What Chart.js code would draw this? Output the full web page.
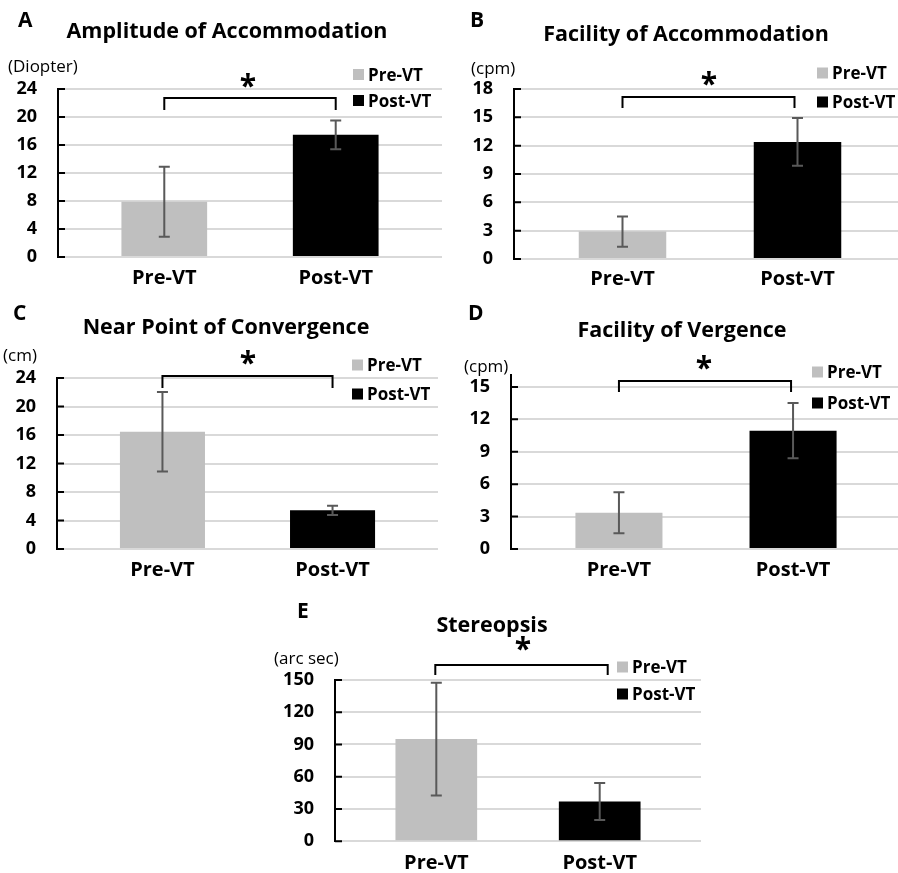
<!DOCTYPE html>
<html>
<head>
<meta charset="utf-8">
<script src="https://cdn.jsdelivr.net/npm/chart.js@4.4.1/dist/chart.umd.min.js"></script>
<style>
  html, body { margin: 0; padding: 0; background: #fff; }
  body { width: 898px; height: 873px; position: relative; overflow: hidden; }
  canvas { position: absolute; }
</style>
</head>
<body>
<canvas id="chart-a"></canvas>
<canvas id="chart-b"></canvas>
<canvas id="chart-c"></canvas>
<canvas id="chart-d"></canvas>
<canvas id="chart-e"></canvas>
<script>
'use strict';

/*===== Data =====*/
const categories = ['Pre-VT', 'Post-VT'];
const seriesNames = ['Pre-VT', 'Post-VT'];

const amplitudeMean = [7.9, 17.45];
const amplitudeSd = [5.0, 2.05];
const amplitudeTicks = [0, 4, 8, 12, 16, 20, 24];

const facilityAccMean = [2.9, 12.4];
const facilityAccSd = [1.6, 2.53];
const facilityAccTicks = [0, 3, 6, 9, 12, 15, 18];

const convergenceMean = [16.45, 5.43];
const convergenceSd = [5.58, 0.65];
const convergenceTicks = [0, 4, 8, 12, 16, 20, 24];

const vergenceMean = [3.35, 10.95];
const vergenceSd = [1.9, 2.55];
const vergenceTicks = [0, 3, 6, 9, 12, 15];

const stereoMean = [95, 37];
const stereoSd = [52.4, 17.2];
const stereoTicks = [0, 30, 60, 90, 120, 150];

/*===== Styles =====*/
const FONT = "'Open Sans', 'Noto Sans', sans-serif";
const barColors = ['#bfbfbf', '#000000'];
Chart.defaults.font.family = FONT;
Chart.defaults.color = '#000';

/*===== Panels (layout in page pixels) =====*/
const panels = [
  { id: 'chart-a', letter: 'A', title: 'Amplitude of Accommodation', unit: '(Diopter)',
    mean: amplitudeMean, sd: amplitudeSd, ticks: amplitudeTicks, yMax: 24,
    box: {x: 0, y: 0, w: 449, h: 295}, area: {left: 58, right: 442, top: 89, bottom: 257},
    letterPos: [18, 27], titlePos: [227, 38], unitPos: [8, 72],
    legend: {x: 353, rows: [74.5, 100.5]}, bracket: {y: 98, drop: 12, shift: [0, 0]},
    star: [248, 80], labelPad: 1.5 },
  { id: 'chart-b', letter: 'B', title: 'Facility of Accommodation', unit: '(cpm)',
    mean: facilityAccMean, sd: facilityAccSd, ticks: facilityAccTicks, yMax: 18,
    box: {x: 449, y: 0, w: 460, h: 295}, area: {left: 514, right: 906, top: 89, bottom: 259},
    letterPos: [470, 27], titlePos: [686, 41], unitPos: [471, 74],
    legend: {x: 817, rows: [73, 102]}, bracket: {y: 97, drop: 11, shift: [0, -3]},
    star: [709, 78], labelPad: 0 },
  { id: 'chart-c', letter: 'C', title: 'Near Point of Convergence', unit: '(cm)',
    mean: convergenceMean, sd: convergenceSd, ticks: convergenceTicks, yMax: 24,
    box: {x: 0, y: 295, w: 449, h: 295}, area: {left: 57, right: 438, top: 378, bottom: 549},
    letterPos: [13, 320], titlePos: [226, 334], unitPos: [3, 361],
    legend: {x: 352, rows: [365, 394]}, bracket: {y: 376, drop: 12, shift: [0, 0]},
    star: [248, 357], labelPad: 1 },
  { id: 'chart-d', letter: 'D', title: 'Facility of Vergence', unit: '(cpm)',
    mean: vergenceMean, sd: vergenceSd, ticks: vergenceTicks, yMax: 16.1,
    box: {x: 449, y: 295, w: 460, h: 295}, area: {left: 511, right: 901, top: 375, bottom: 549},
    letterPos: [468, 320], titlePos: [682, 337], unitPos: [464, 372],
    legend: {x: 812, rows: [372, 403]}, bracket: {y: 381, drop: 11, shift: [0, -2]},
    star: [704, 362], labelPad: 1 },
  { id: 'chart-e', letter: 'E', title: 'Stereopsis', unit: '(arc sec)',
    mean: stereoMean, sd: stereoSd, ticks: stereoTicks, yMax: 150,
    box: {x: 250, y: 590, w: 470, h: 283}, area: {left: 335, right: 701, top: 680, bottom: 843},
    letterPos: [297, 618], titlePos: [492, 632], unitPos: [274, 664],
    legend: {x: 617, rows: [667, 694]}, bracket: {y: 665, drop: 10, shift: [-1, 8]},
    star: [523, 643], labelPad: 2 }
];

/*===== Plugin: error bars, inner ticks, titles, legend, bracket =====*/
function makeDecor(p) {
  const ox = p.box.x, oy = p.box.y;
  return {
    id: 'decor',
    afterDatasetsDraw(chart) {
      const ctx = chart.ctx;
      const yScale = chart.scales.y;
      const area = chart.chartArea;

      // petits traits vers l'intérieur
      ctx.save();
      ctx.strokeStyle = '#000';
      ctx.lineWidth = 2;
      ctx.beginPath();
      p.ticks.forEach(v => {
        const y = yScale.getPixelForValue(v);
        ctx.moveTo(area.left, y);
        ctx.lineTo(area.left + 7, y);
      });
      ctx.stroke();

      // barres d'erreur
      ctx.strokeStyle = '#595959';
      ctx.lineWidth = 2;
      const meta = chart.getDatasetMeta(0);
      meta.data.forEach((bar, i) => {
        const top = yScale.getPixelForValue(p.mean[i] + p.sd[i]);
        const bot = yScale.getPixelForValue(p.mean[i] - p.sd[i]);
        ctx.beginPath();
        ctx.moveTo(bar.x, top); ctx.lineTo(bar.x, bot);
        ctx.moveTo(bar.x - 5.5, top); ctx.lineTo(bar.x + 5.5, top);
        ctx.moveTo(bar.x - 5.5, bot); ctx.lineTo(bar.x + 5.5, bot);
        ctx.stroke();
      });
      ctx.restore();
    },
    afterDraw(chart) {
      const ctx = chart.ctx;
      const xScale = chart.scales.x;
      ctx.save();
      ctx.fillStyle = '#000';
      ctx.textBaseline = 'alphabetic';

      ctx.textAlign = 'left';
      ctx.font = 'bold 21px ' + FONT;
      ctx.fillText(p.letter, p.letterPos[0] - ox, p.letterPos[1] - oy);

      ctx.textAlign = 'center';
      ctx.font = 'bold 21.5px ' + FONT;
      ctx.fillText(p.title, p.titlePos[0] - ox, p.titlePos[1] - oy);

      ctx.textAlign = 'left';
      ctx.font = '17px ' + FONT;
      ctx.fillText(p.unit, p.unitPos[0] - ox, p.unitPos[1] - oy);

      // légende
      ctx.font = 'bold 17px ' + FONT;
      p.legend.rows.forEach((cy, i) => {
        ctx.fillStyle = barColors[i];
        ctx.fillRect(p.legend.x - ox, cy - 5.5 - oy, 11, 11);
        ctx.fillStyle = '#000';
        ctx.fillText(seriesNames[i], p.legend.x + 15 - ox, cy + 6 - oy);
      });

      // crochet de significativité
      const x1 = xScale.getPixelForValue(1) + p.bracket.shift[0];
      const x2 = xScale.getPixelForValue(2) + p.bracket.shift[1];
      const by = p.bracket.y - oy;
      ctx.strokeStyle = '#000';
      ctx.lineWidth = 2;
      ctx.beginPath();
      ctx.moveTo(x1, by + p.bracket.drop);
      ctx.lineTo(x1, by);
      ctx.lineTo(x2, by);
      ctx.lineTo(x2, by + p.bracket.drop);
      ctx.stroke();

      ctx.textAlign = 'center';
      ctx.font = 'bold 30px ' + FONT;
      ctx.fillText('*', p.star[0] - ox, p.star[1] + 16 - oy);
      ctx.restore();
    }
  };
}

/*===== Draw each panel =====*/
function drawPanel(p) {
  const canvas = document.getElementById(p.id);
  canvas.width = p.box.w;
  canvas.height = p.box.h;
  canvas.style.left = p.box.x + 'px';
  canvas.style.top = p.box.y + 'px';

  new Chart(canvas.getContext('2d'), {
    type: 'bar',
    data: {
      datasets: [{
        data: p.mean.map((m, i) => ({x: i + 1, y: m})),
        backgroundColor: barColors,
        borderWidth: 0,
        barPercentage: 0.5,
        categoryPercentage: 1.0
      }]
    },
    options: {
      responsive: false,
      animation: false,
      layout: {
        padding: {top: p.area.top - p.box.y, right: p.box.x + p.box.w - p.area.right, left: 0, bottom: 0}
      },
      plugins: {
        legend: {display: false},
        tooltip: {enabled: false}
      },
      scales: {
        x: {
          type: 'linear',
          offset: false,
          min: 0.38,
          max: 2.62,
          afterBuildTicks: s => { s.ticks = categories.map((c, i) => ({value: i + 1})); },
          afterFit: s => { s.height = p.box.y + p.box.h - p.area.bottom; },
          grid: {display: false},
          border: {display: false},
          ticks: {
            autoSkip: false,
            maxRotation: 0,
            padding: p.labelPad,
            font: {size: 20, weight: 'bold'},
            color: '#000',
            callback: v => categories[v - 1]
          }
        },
        y: {
          min: 0,
          max: p.yMax,
          afterBuildTicks: s => { s.ticks = p.ticks.map(v => ({value: v})); },
          afterFit: s => { s.width = p.area.left - p.box.x; },
          grid: {color: '#d9d9d9', lineWidth: 2, drawTicks: false},
          border: {display: true, color: '#000', width: 2},
          ticks: {
            padding: 21,
            font: {size: 18, weight: 'bold'},
            color: '#000'
          }
        }
      }
    },
    plugins: [makeDecor(p)]
  });
}

panels.forEach(drawPanel);
</script>
</body>
</html>
